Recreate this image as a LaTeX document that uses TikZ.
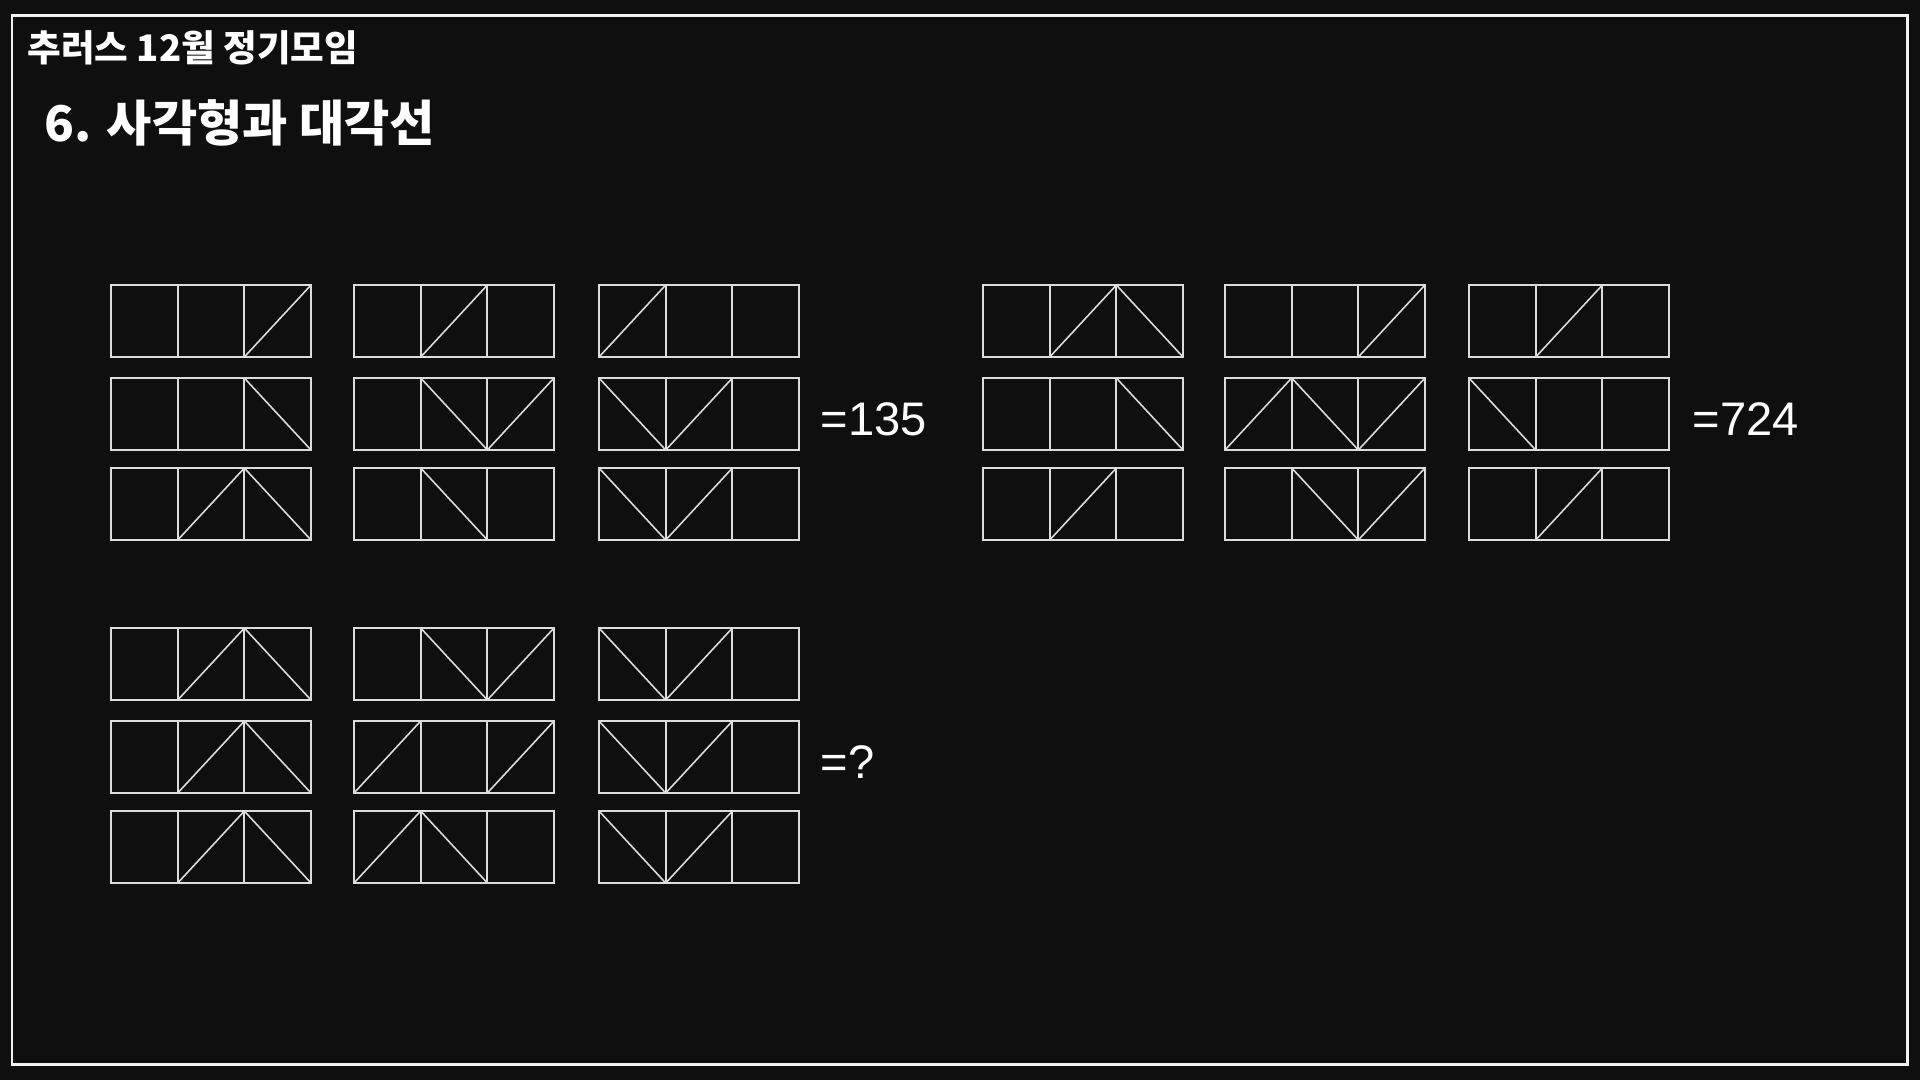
\documentclass[tikz,border=0pt]{standalone}
\usepackage{fontspec}
\setmainfont{Liberation Sans}
\newfontfamily\krfont{Noto Sans CJK KR}
\definecolor{bgdark}{HTML}{0F0F0F}
\definecolor{lineg}{HTML}{DCDCDC}
\definecolor{framew}{HTML}{F2F2F2}

% one diagonal in a cell: 0 none, 1 rising, 2 falling
\newcommand{\diagcell}[3]{%
  \ifcase#3\or
    \draw[diag] (#1,#2+72) -- ++(66.7,-72);
  \or
    \draw[diag] (#1,#2) -- ++(66.7,72);
  \fi}

% a strip of three cells
\newcommand{\tribox}[5]{%
  \draw[boxline] (#1,#2) rectangle ++(200,72);
  \draw[boxline] (#1+66.7,#2) -- ++(0,72) (#1+133.3,#2) -- ++(0,72);
  \diagcell{#1}{#2}{#3}
  \diagcell{#1+66.7}{#2}{#4}
  \diagcell{#1+133.3}{#2}{#5}}

\begin{document}
\begin{tikzpicture}[x=0.1mm, y=-0.1mm]
\tikzset{
  boxline/.style={draw=lineg, line width=0.65pt},
  diag/.style={draw=lineg, line width=0.45pt},
  answer/.style={text=white, anchor=base west, inner sep=0pt,
    font=\fontsize{13.4}{16}\selectfont},
  heading/.style={text=white, anchor=west, inner sep=0pt}
}
\fill[bgdark] (0,0) rectangle (1920,1080);
\useasboundingbox (0,0) rectangle (1920,1080);
\draw[framew, line width=0.85pt] (12,15) rectangle (1907,1064);

\node[heading, font=\krfont\bfseries\fontsize{10.4}{13}\selectfont] (meet) at (27,48) {추러스 12월 정기모임};
\node[heading, font=\krfont\bfseries\fontsize{14}{16}\selectfont] (title) at (44,123) {6. 사각형과 대각선};

% first example
\foreach \bx/\by/\p/\q/\r in {
  111/285/0/0/1, 354/285/0/1/0, 599/285/1/0/0,
  111/378/0/0/2, 354/378/0/2/1, 599/378/2/1/0,
  111/468/0/1/2, 354/468/0/2/0, 599/468/2/1/0}
  {\tribox{\bx}{\by}{\p}{\q}{\r}}
\node[answer] (ansA) at (820,435) {=135};

% second example
\foreach \bx/\by/\p/\q/\r in {
  983/285/0/1/2, 1225/285/0/0/1, 1469/285/0/1/0,
  983/378/0/0/2, 1225/378/1/2/1, 1469/378/2/0/0,
  983/468/0/1/0, 1225/468/0/2/1, 1469/468/0/1/0}
  {\tribox{\bx}{\by}{\p}{\q}{\r}}
\node[answer] (ansB) at (1692,435) {=724};

% question
\foreach \bx/\by/\p/\q/\r in {
  111/628/0/1/2, 354/628/0/2/1, 599/628/2/1/0,
  111/721/0/1/2, 354/721/1/0/1, 599/721/2/1/0,
  111/811/0/1/2, 354/811/1/2/0, 599/811/2/1/0}
  {\tribox{\bx}{\by}{\p}{\q}{\r}}
\node[answer] (ansC) at (820,778) {=?};
\end{tikzpicture}
\end{document}
